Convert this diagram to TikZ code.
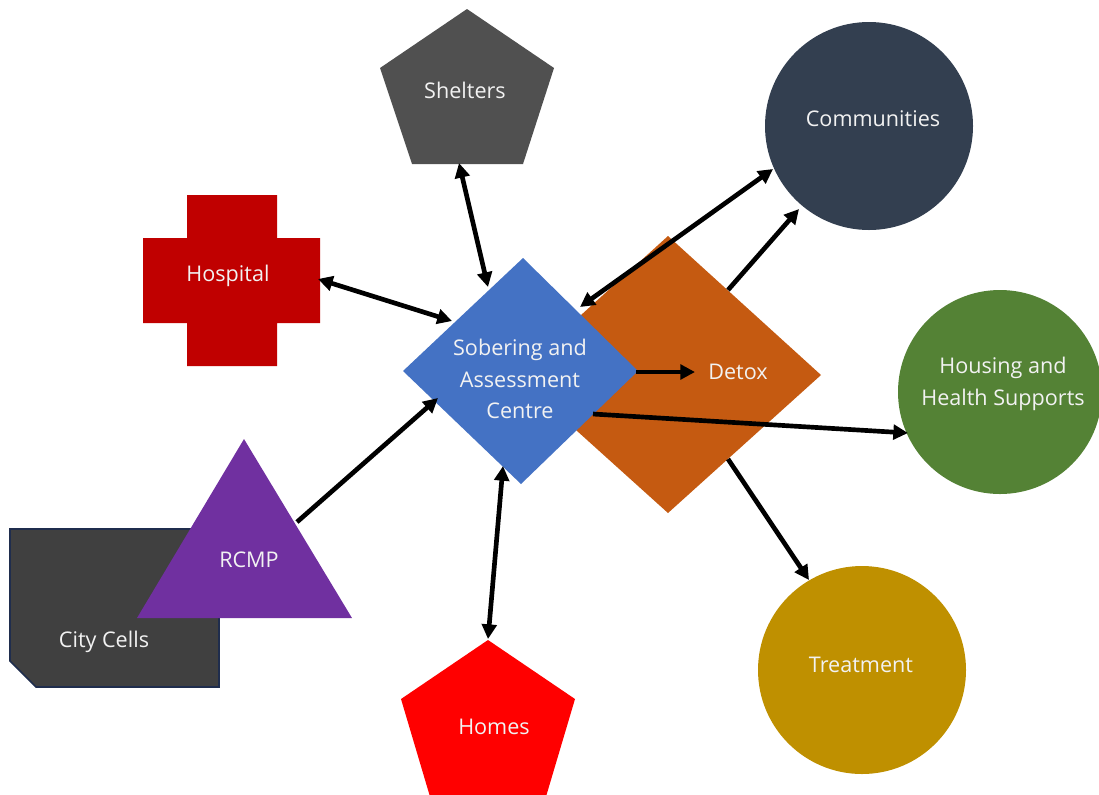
\documentclass[tikz,border=0pt]{standalone}
\usepackage{fontspec}
\setmainfont{Open Sans}
\usetikzlibrary{arrows.meta}
\definecolor{cShelter}{HTML}{505050}
\definecolor{cHosp}{HTML}{C00000}
\definecolor{cComm}{HTML}{333F50}
\definecolor{cSac}{HTML}{4472C4}
\definecolor{cDetox}{HTML}{C55A11}
\definecolor{cHouse}{HTML}{548235}
\definecolor{cRcmp}{HTML}{7030A0}
\definecolor{cCells}{HTML}{404040}
\definecolor{cCellsB}{HTML}{1F2D4D}
\definecolor{cHomes}{HTML}{FF0000}
\definecolor{cTreat}{HTML}{BF9000}
\definecolor{cText}{HTML}{F2F2F2}
\tikzset{
  lbl/.style={text=cText, font=\fontsize{16.2}{23.5}\selectfont, align=center, inner sep=0pt},
  conn/.style={line width=3.5pt, -{Triangle[length=11pt,width=11pt]}},
  biconn/.style={line width=3.5pt, {Triangle[length=11pt,width=11pt]}-{Triangle[length=11pt,width=11pt]}},
}
\begin{document}
\begin{tikzpicture}[x=0.75pt,y=-0.75pt]
\useasboundingbox (0,0) rectangle (1099,794);
\clip (0,0) rectangle (1099,794);
% shapes
\fill[cShelter] (467,9) -- (554,68) -- (523,164) -- (412,164) -- (380,68) -- cycle;
\fill[cHosp] (187,195) -- (277,195) -- (277,238) -- (320,238) -- (320,323) -- (277,323) -- (277,366) -- (187,366) -- (187,323) -- (143,323) -- (143,238) -- (187,238) -- cycle;
\fill[cComm] (869,126) circle[radius=104];
\fill[cHouse] (1000,392) circle[radius=102];
\fill[cTreat] (862,670) circle[radius=104];
\fill[cDetox] (668,236) -- (821,375) -- (668,513) -- (515,375) -- cycle;
\fill[cSac] (523,258) -- (638,371) -- (521,484) -- (403,371) -- cycle;
\filldraw[fill=cCells, draw=cCellsB, line width=1.2pt] (10,529) -- (219,529) -- (219,687) -- (36,687) -- (10,661) -- cycle;
\fill[cRcmp] (244,439) -- (352,618) -- (137,618) -- cycle;
\fill[cHomes] (488,640) -- (575,699) -- (545,800) -- (431,800) -- (401,699) -- cycle;
% labels
\node[lbl] (shelters) at (465,90) {Shelters};
\node[lbl] (hospital) at (228,276) {Hospital};
\node[lbl] (communities) at (873,119) {Communities};
\node[lbl] (sac) at (520,379) {Sobering and\\Assessment\\Centre};
\node[lbl] (detox) at (738,372) {Detox};
\node[lbl] (housing) at (1003,384) {Housing and\\Health Supports};
\node[lbl] (rcmp) at (249,560) {RCMP};
\node[lbl] (cells) at (104,642) {City Cells};
\node[lbl] (homes) at (494,727) {Homes};
\node[lbl] (treatment) at (861,665) {Treatment};
% connector end points
\coordinate (shelters-s) at (459,163);
\coordinate (sac-nw1) at (488,287);
\coordinate (hospital-e) at (318,279);
\coordinate (sac-nw2) at (452,321);
\coordinate (rcmp-ne) at (297,522);
\coordinate (sac-sw) at (438,398);
\coordinate (sac-s) at (503,466);
\coordinate (homes-n) at (488,639);
\coordinate (sac-e) at (636,372);
\coordinate (detox-w) at (695,372);
\coordinate (sac-ne) at (580,307);
\coordinate (comm-sw1) at (773,169);
\coordinate (detox-ne) at (728,290);
\coordinate (comm-sw2) at (799,209);
\coordinate (sac-se) at (593,414);
\coordinate (housing-w) at (908,433);
\coordinate (detox-se) at (728,459);
\coordinate (treat-n) at (809,580);
% connectors
\draw[biconn] (shelters-s) -- (sac-nw1);
\draw[biconn] (hospital-e) -- (sac-nw2);
\draw[conn] (rcmp-ne) -- (sac-sw);
\draw[biconn] (sac-s) -- (homes-n);
\draw[conn] (sac-e) -- (detox-w);
\draw[biconn] (sac-ne) -- (comm-sw1);
\draw[conn] (detox-ne) -- (comm-sw2);
\draw[conn] (sac-se) -- (housing-w);
\draw[conn] (detox-se) -- (treat-n);
\end{tikzpicture}
\end{document}
